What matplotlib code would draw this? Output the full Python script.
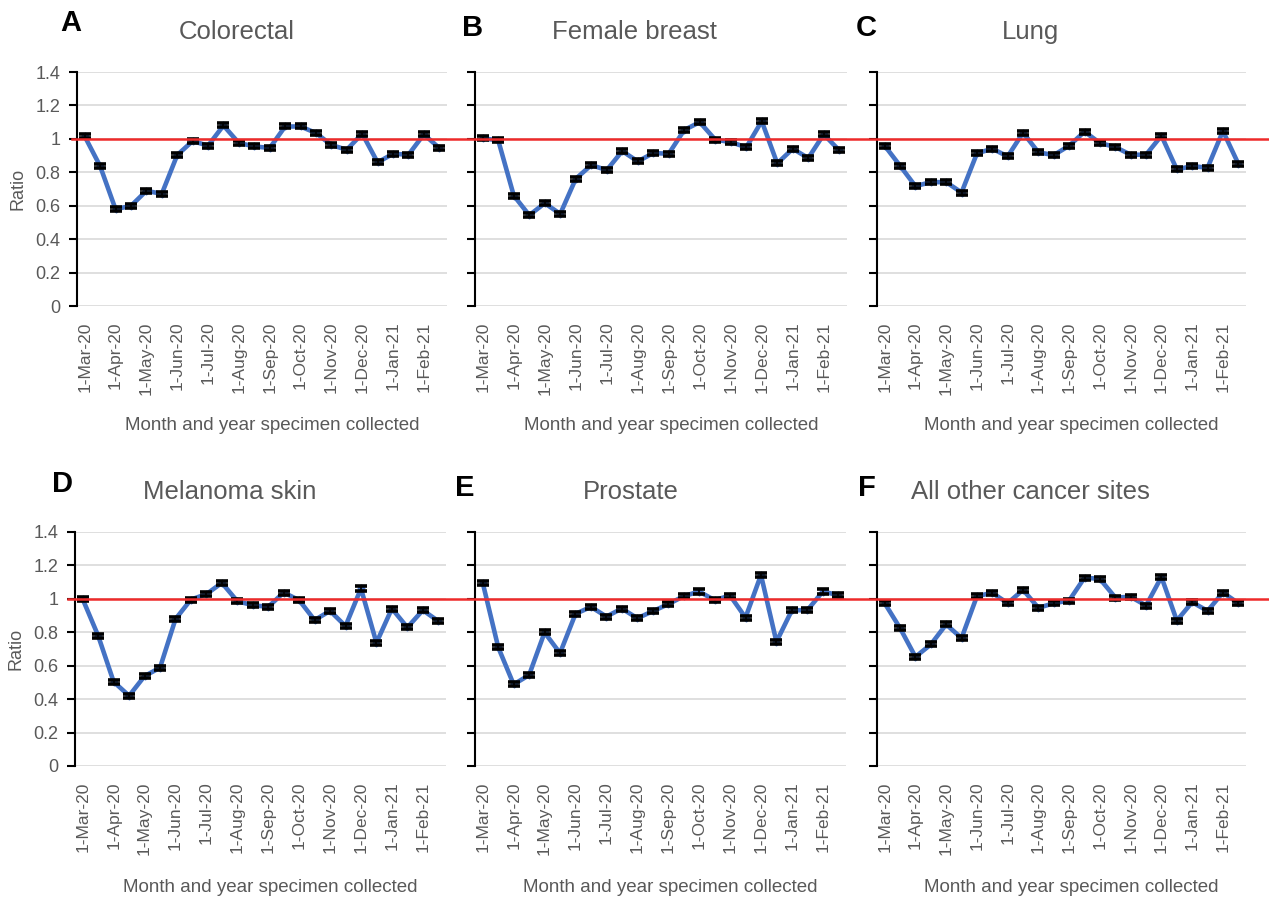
import matplotlib
matplotlib.use('Agg')
import matplotlib.pyplot as plt
from matplotlib.lines import Line2D
import numpy as np

plt.rcParams['font.family'] = ['Liberation Sans', 'DejaVu Sans']

# half-month periods, Mar 2020 - Feb 2021
month_labels = ['1-Mar-20', '1-Apr-20', '1-May-20', '1-Jun-20', '1-Jul-20', '1-Aug-20',
                '1-Sep-20', '1-Oct-20', '1-Nov-20', '1-Dec-20', '1-Jan-21', '1-Feb-21']

colorectal = [1.015, 0.837, 0.579, 0.599, 0.689, 0.671, 0.903, 0.987, 0.959, 1.080, 0.975, 0.955,
              0.945, 1.074, 1.074, 1.035, 0.963, 0.935, 1.031, 0.859, 0.911, 0.905, 1.027, 0.945]
breast = [1.003, 0.991, 0.661, 0.543, 0.615, 0.551, 0.761, 0.843, 0.813, 0.927, 0.865, 0.915,
          0.911, 1.053, 1.100, 0.995, 0.981, 0.949, 1.106, 0.853, 0.941, 0.885, 1.027, 0.931]
lung = [0.959, 0.839, 0.717, 0.741, 0.741, 0.679, 0.913, 0.941, 0.895, 1.037, 0.919, 0.903,
        0.959, 1.043, 0.975, 0.951, 0.905, 0.905, 1.019, 0.817, 0.837, 0.827, 1.047, 0.851]
melanoma = [0.998, 0.779, 0.504, 0.420, 0.538, 0.588, 0.879, 0.996, 1.028, 1.096, 0.986, 0.962,
            0.952, 1.038, 0.992, 0.873, 0.928, 0.837, 1.062, 0.737, 0.942, 0.829, 0.932, 0.867]
prostate = [1.096, 0.711, 0.488, 0.544, 0.799, 0.675, 0.910, 0.952, 0.894, 0.942, 0.884, 0.926,
            0.968, 1.016, 1.044, 0.992, 1.020, 0.888, 1.143, 0.743, 0.932, 0.932, 1.044, 1.022]
other = [0.974, 0.825, 0.653, 0.727, 0.847, 0.765, 1.016, 1.036, 0.974, 1.054, 0.946, 0.974,
         0.990, 1.127, 1.119, 1.008, 1.012, 0.960, 1.131, 0.870, 0.980, 0.928, 1.038, 0.974]
ci_half = 0.012

panels = [
    ('A', 'Colorectal', colorectal),
    ('B', 'Female breast', breast),
    ('C', 'Lung', lung),
    ('D', 'Melanoma skin', melanoma),
    ('E', 'Prostate', prostate),
    ('F', 'All other cancer sites', other),
]

W, H = 1269, 900
fig = plt.figure(figsize=(12.69, 9), dpi=100)

# axes boxes in pixels: left, top, right, bottom
boxes = [(77, 72, 447, 306), (475, 72, 847, 306), (877, 72, 1246, 306),
         (75, 532, 446, 766), (475, 532, 846, 766), (877, 532, 1246, 766)]
letter_pos = [(71, 23), (473, 28), (866, 28), (63, 484), (465, 488), (867, 488)]
title_pos = [(237, 32), (634, 32), (1031, 32), (230, 492), (631, 492), (1030, 492)]
xlab_pos = [(272, 425), (671, 425), (1071, 425), (270, 887), (670, 887), (1071, 887)]

grey = '#595959'
x = np.arange(len(colorectal))

for i, (letter, title, vals) in enumerate(panels):
    l, t, r, b = boxes[i]
    ax = fig.add_axes([l / W, 1 - b / H, (r - l) / W, (b - t) / H])
    ax.set_facecolor('none')
    ax.plot(x, vals, color='#4472C4', lw=3.3, marker='D', ms=3.5, zorder=3)
    ax.errorbar(x, vals, yerr=ci_half, fmt='none', ecolor='black', elinewidth=1.2,
                capsize=4.5, capthick=2.6, zorder=4)
    ax.set_xlim(-0.5, len(x) - 0.5)
    ax.set_ylim(0, 1.4)
    ax.set_yticks(np.arange(0, 1.41, 0.2))
    ax.grid(axis='y', color='#d9d9d9', lw=1.2)
    ax.set_axisbelow(True)
    for s in ['top', 'right', 'bottom']:
        ax.spines[s].set_visible(False)
    ax.spines['left'].set_linewidth(1.5)
    ax.tick_params(axis='y', direction='out', length=6, width=1.5, colors='black',
                   labelcolor=grey, labelsize=13, pad=6)
    ax.tick_params(axis='x', length=0, labelcolor=grey, labelsize=12.5, pad=11)
    ax.set_xticks(x[::2])
    ax.set_xticklabels(month_labels, rotation=90)
    if i in (0, 3):
        ax.set_yticklabels(['0', '0.2', '0.4', '0.6', '0.8', '1', '1.2', '1.4'])
        ax.set_ylabel('Ratio', color=grey, fontsize=13, labelpad=6)
    else:
        ax.set_yticklabels([])

    fig.text(letter_pos[i][0] / W, 1 - letter_pos[i][1] / H, letter, fontsize=21,
             fontweight='bold', ha='center', va='center')
    fig.text(title_pos[i][0] / W, 1 - title_pos[i][1] / H, title, fontsize=18.5,
             color=grey, ha='center', va='center')
    fig.text(xlab_pos[i][0] / W, 1 - xlab_pos[i][1] / H, 'Month and year specimen collected',
             fontsize=13.5, color=grey, ha='center', va='center')

# reference line at ratio 1, spanning the whole row
for top, bottom, x0 in [(72, 306, 72), (532, 766, 68)]:
    yline = 1 - (bottom - (bottom - top) / 1.4) / H
    fig.add_artist(Line2D([x0 / W, 1], [yline, yline], transform=fig.transFigure,
                          color='#EE2A2A', lw=1.8, zorder=5))

fig.savefig('out.png', dpi=100)
